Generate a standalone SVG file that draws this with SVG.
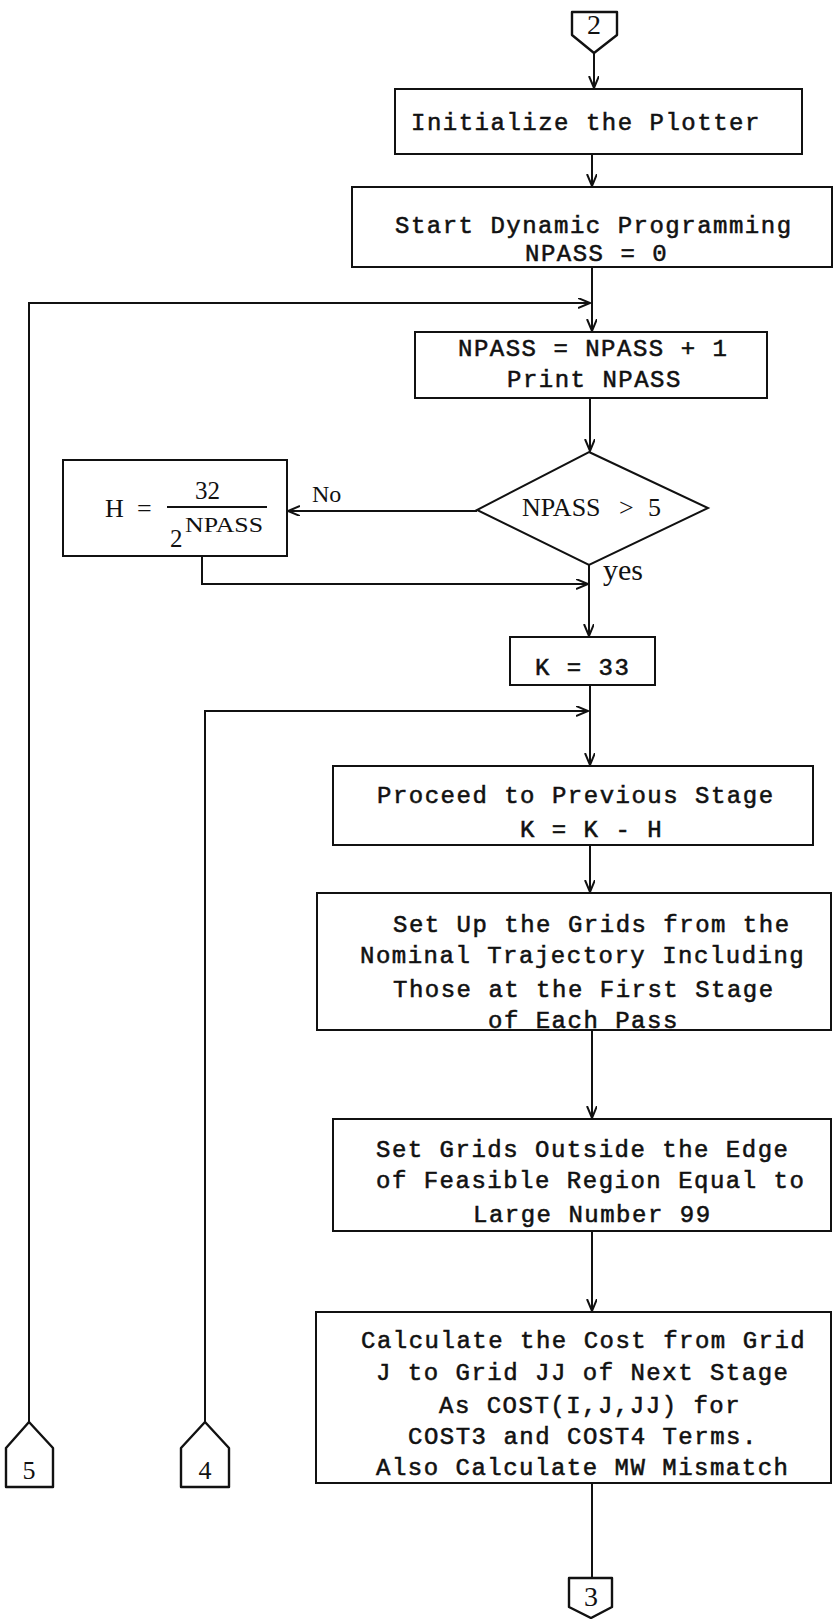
<svg xmlns="http://www.w3.org/2000/svg" width="837" height="1619" viewBox="0 0 837 1619">
<style>
.box{fill:none;stroke:#111;stroke-width:2}
.ln{fill:none;stroke:#111;stroke-width:2}
.tw{font-family:"Liberation Mono",monospace;font-size:24px;letter-spacing:1.5px;fill:#111;stroke:#111;stroke-width:0.55}
.sf{font-family:"Liberation Serif",serif;fill:#111}
.con{fill:none;stroke:#111;stroke-width:2.4;stroke-linejoin:round}
</style>
<defs>
<marker id="ah" markerUnits="userSpaceOnUse" markerWidth="14" markerHeight="12" refX="12" refY="5" orient="auto">
<path d="M0,0 L12,5 L0,10" fill="none" stroke="#111" stroke-width="2"/>
</marker>
</defs>
<rect width="837" height="1619" fill="#fff"/>
<g id="connectors">
<path class="ln" d="M594,53 V88" marker-end="url(#ah)"/>
<path class="ln" d="M592,154 V186" marker-end="url(#ah)"/>
<path class="ln" d="M592,267 V331" marker-end="url(#ah)"/>
<path class="ln" d="M29,1422 V303 H590" marker-end="url(#ah)"/>
<path class="ln" d="M590,398 V451" marker-end="url(#ah)"/>
<path class="ln" d="M477,511 H288" marker-end="url(#ah)"/>
<path class="ln" d="M202,556 V584 H588" marker-end="url(#ah)"/>
<path class="ln" d="M589,565 V636" marker-end="url(#ah)"/>
<path class="ln" d="M590,685 V765" marker-end="url(#ah)"/>
<path class="ln" d="M205,1422 V711 H588" marker-end="url(#ah)"/>
<path class="ln" d="M590,845 V892" marker-end="url(#ah)"/>
<path class="ln" d="M592,1030 V1118" marker-end="url(#ah)"/>
<path class="ln" d="M592,1231 V1311" marker-end="url(#ah)"/>
<path class="ln" d="M592,1483 V1578"/>
</g>
<g id="conn2">
<path class="con" d="M572,12 H617 V35 L594,53 L572,35 Z"/>
<text class="sf" x="594" y="34" font-size="28" text-anchor="middle">2</text>
</g>
<g id="init">
<rect class="box" x="395" y="89" width="407" height="65"/>
<text class="tw" x="411" y="130">Initialize the Plotter</text>
</g>
<g id="start">
<rect class="box" x="352" y="187" width="480" height="80"/>
<text class="tw" x="395" y="233">Start Dynamic Programming</text>
<text class="tw" x="525" y="261">NPASS = 0</text>
</g>
<g id="npass">
<rect class="box" x="415" y="332" width="352" height="66"/>
<text class="tw" x="458" y="356">NPASS = NPASS + 1</text>
<text class="tw" x="507" y="387">Print NPASS</text>
</g>
<g id="decision">
<polygon class="box" points="589,452 708,508 589,565 477,510"/>
<text class="sf" font-size="26" y="516"><tspan x="522">NPASS</tspan><tspan x="619">&gt;</tspan><tspan x="648">5</tspan></text>
<text class="sf" font-size="24" x="312" y="502">No</text>
<text class="sf" font-size="30" x="603" y="580">yes</text>
</g>
<g id="hbox">
<rect class="box" x="63" y="460" width="224" height="96"/>
<text class="sf" font-size="26" x="105" y="517">H</text>
<text class="sf" font-size="26" x="137" y="517">=</text>
<line class="ln" x1="167" y1="507" x2="267" y2="507"/>
<text class="sf" font-size="25" x="195" y="499">32</text>
<text class="sf" font-size="25" x="170" y="547">2</text>
<text class="sf" font-size="21" x="185" y="532" textLength="78" lengthAdjust="spacingAndGlyphs">NPASS</text>
</g>
<g id="k33">
<rect class="box" x="510" y="637" width="145" height="48"/>
<text class="tw" x="535" y="675">K = 33</text>
</g>
<g id="proceed">
<rect class="box" x="333" y="766" width="480" height="79"/>
<text class="tw" x="377" y="803">Proceed to Previous Stage</text>
<text class="tw" x="520" y="837">K = K - H</text>
</g>
<g id="setup">
<rect class="box" x="317" y="893" width="514" height="137"/>
<text class="tw" x="393" y="932">Set Up the Grids from the</text>
<text class="tw" x="360" y="963">Nominal Trajectory Including</text>
<text class="tw" x="393" y="997">Those at the First Stage</text>
<text class="tw" x="488" y="1028">of Each Pass</text>
</g>
<g id="setgrids">
<rect class="box" x="333" y="1119" width="498" height="112"/>
<text class="tw" x="376" y="1157">Set Grids Outside the Edge</text>
<text class="tw" x="376" y="1188">of Feasible Region Equal to</text>
<text class="tw" x="473" y="1222">Large Number 99</text>
</g>
<g id="calc">
<rect class="box" x="316" y="1312" width="515" height="171"/>
<text class="tw" x="361" y="1348">Calculate the Cost from Grid</text>
<text class="tw" x="376" y="1380">J to Grid JJ of Next Stage</text>
<text class="tw" x="439" y="1413">As COST(I,J,JJ) for</text>
<text class="tw" x="408" y="1444">COST3 and COST4 Terms.</text>
<text class="tw" x="376" y="1475">Also Calculate MW Mismatch</text>
</g>
<g id="conn5">
<path class="con" d="M29,1422 L53,1448 V1487 H6 V1448 Z"/>
<text class="sf" font-size="26" x="29" y="1479" text-anchor="middle">5</text>
</g>
<g id="conn4">
<path class="con" d="M205,1422 L229,1448 V1487 H181 V1448 Z"/>
<text class="sf" font-size="26" x="205" y="1479" text-anchor="middle">4</text>
</g>
<g id="conn3">
<path class="con" d="M569,1578 H612 V1607 L591,1618 L569,1607 Z"/>
<text class="sf" font-size="28" x="591" y="1606" text-anchor="middle">3</text>
</g>
</svg>
